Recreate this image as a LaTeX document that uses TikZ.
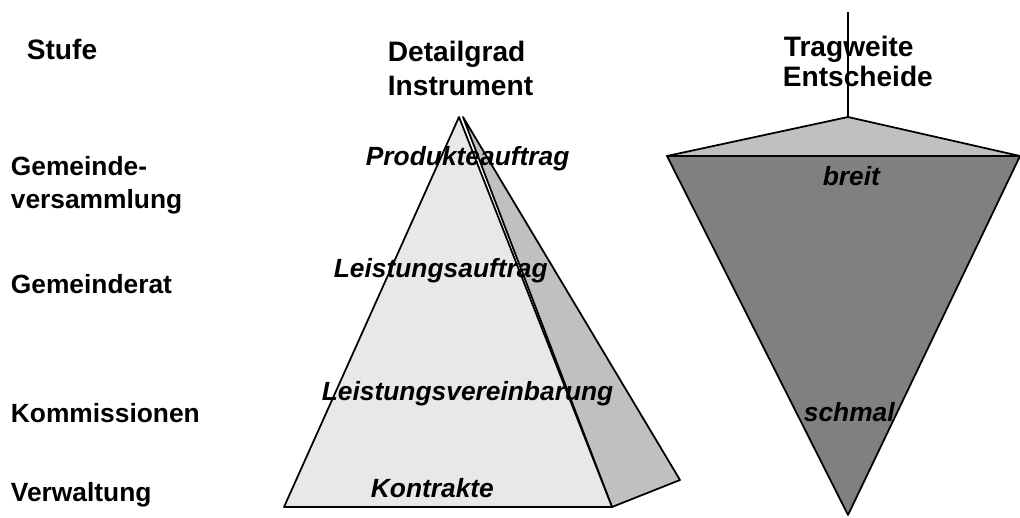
\documentclass[tikz,border=0pt]{standalone}
\usepackage{fontspec}
\setmainfont{Liberation Sans}

\definecolor{front}{HTML}{E8E8E8}
\definecolor{seite}{HTML}{C0C0C0}
\definecolor{dunkel}{HTML}{808080}

\tikzset{
  stufe/.style={anchor=base west, inner sep=0pt, font=\fontsize{15}{18}\selectfont\bfseries},
  kopf/.style={anchor=base west, inner sep=0pt, font=\fontsize{16}{19}\selectfont\bfseries},
  instr/.style={anchor=base west, inner sep=0pt, font=\fontsize{15}{18}\selectfont\bfseries\itshape},
}

\begin{document}
\begin{tikzpicture}[x=0.02cm, y=-0.02cm, line width=1pt, line join=round]

\useasboundingbox (0,0) rectangle (1020,517);

%% corners
\coordinate (spitze)  at (459,117);   %% apex front
\coordinate (spitzeb) at (463,117);   %% apex side
\coordinate (links)   at (284,507);
\coordinate (rechts)  at (612,507);
\coordinate (hinten)  at (680,480);

\coordinate (stiel)   at (848,12);
\coordinate (oben)    at (848,117);
\coordinate (ol)      at (667,156);
\coordinate (or)      at (1020,156);
\coordinate (unten)   at (848,515);

%% pyramid
\draw[fill=seite] (spitzeb) -- (rechts) -- (hinten) -- cycle;
\draw[fill=front] (spitze) -- (links) -- (rechts) -- cycle;

%% inverted pyramid
\draw[fill=seite]  (oben) -- (ol) -- (or) -- cycle;
\draw[fill=dunkel] (ol) -- (or) -- (unten) -- cycle;

%% headings
\node[kopf] (stufe)  at (26,60)  {Stufe};
\node[kopf] (detail) at (387,62) {Detailgrad};
\node[kopf] (instru) at (387,95) {Instrument};
\node[kopf] (trag)   at (783,57) {Tragweite};
\node[kopf] (entsch) at (782,87) {Entscheide};

%% levels
\node[stufe] (gv1)  at (10,175) {Gemeinde-};
\node[stufe] (gv2)  at (10,208) {versammlung};
\node[stufe] (gr)   at (10,293) {Gemeinderat};
\node[stufe] (komm) at (10,422) {Kommissionen};
\node[stufe] (verw) at (10,501) {Verwaltung};

%% instruments
\node[instr] (prod) at (365,165) {Produkteauftrag};
\node[instr] (lauf) at (333,277) {Leistungsauftrag};
\node[instr] (lver) at (321,400) {Leistungsvereinbarung};
\node[instr] (kont) at (370,497) {Kontrakte};

%% scope
\node[instr] (breit)  at (822,185) {breit};
\node[instr] (schmal) at (803,421) {schmal};

\draw (stiel) -- (oben);

\end{tikzpicture}
\end{document}
